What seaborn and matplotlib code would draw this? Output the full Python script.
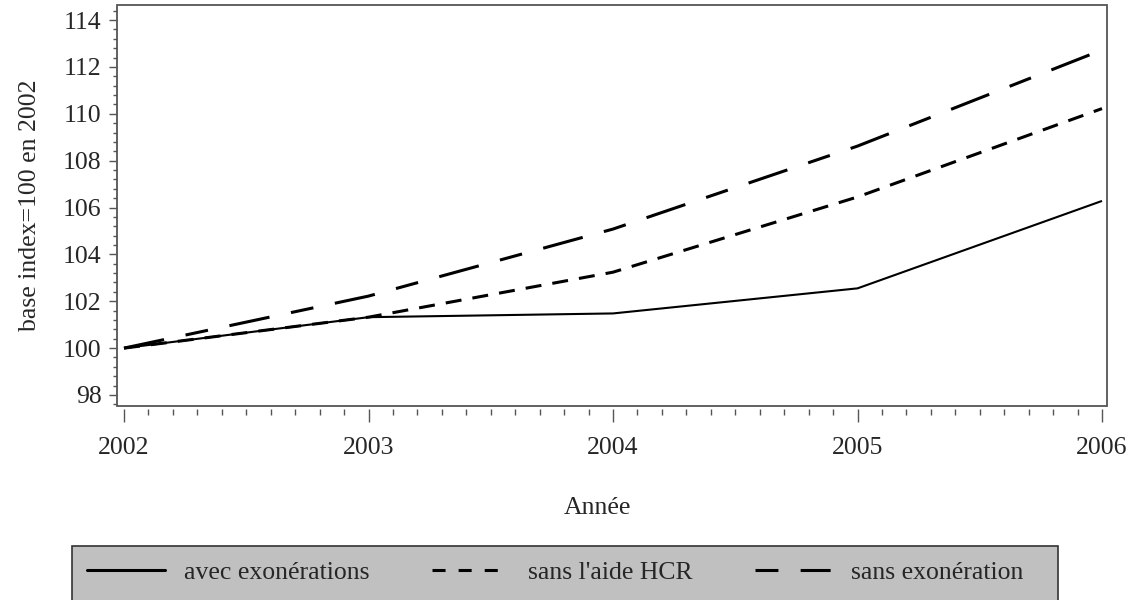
import numpy as np
import pandas as pd
import matplotlib
matplotlib.use("Agg")
import matplotlib.pyplot as plt
from matplotlib.lines import Line2D
from matplotlib.patches import Rectangle
from matplotlib.ticker import MultipleLocator
import seaborn as sns

years = [2002, 2003, 2004, 2005, 2006]
avec_exonerations = [100.0, 101.32, 101.48, 102.55, 106.28]
sans_aide_hcr = [100.0, 101.32, 103.24, 106.45, 110.22]
sans_exoneration = [100.0, 102.22, 105.08, 108.62, 112.72]
series_names = ["avec exonérations", "sans l'aide HCR", "sans exonération"]

sns.set_theme(style="white")
plt.rcParams["font.family"] = ["Liberation Serif", "DejaVu Serif"]
plt.rcParams["lines.scale_dashes"] = False

FS = 18.5
fig = plt.figure(figsize=(11.36, 6.0), dpi=100)
ax = fig.add_axes([117/1136, 1-406/600, (1107-117)/1136, (406-5)/600])

series_vals = [avec_exonerations, sans_aide_hcr, sans_exoneration]
styles = [
    dict(lw=1.5, dashes=None),
    dict(lw=2.2, dashes=(11.5, 8.0)),
    dict(lw=2.2, dashes=(29.5, 15.8, 16.5, 15.8)),
]
for name, vals, st in zip(series_names, series_vals, styles):
    df = pd.DataFrame({"Année": years, "val": vals})
    sns.lineplot(data=df, x="Année", y="val", ax=ax, color="black",
                 linewidth=st["lw"], legend=False)
    ln = ax.lines[-1]
    if st["dashes"] is not None:
        ln.set_dashes(st["dashes"])
    ln.set_solid_capstyle("butt")
    ln.set_dash_capstyle("butt")

ax.set_xlim(2002 - 7/244.5, 2006 + 5/244.5)
ax.set_ylim(98 - 11/23.43, 114 + 15/23.43)
ax.xaxis.set_major_locator(MultipleLocator(1))
ax.xaxis.set_minor_locator(MultipleLocator(0.1))
ax.yaxis.set_major_locator(MultipleLocator(2))
ax.yaxis.set_minor_locator(MultipleLocator(0.4))
ax.set_xticks(years)
ax.set_xticklabels([str(y) for y in years])

tick_col = "#555555"
ax.tick_params(axis="x", which="major", direction="out", length=9, width=1.0,
               color=tick_col, labelsize=FS, pad=11, bottom=True)
ax.tick_params(axis="x", which="minor", direction="out", length=4.5, width=1.0,
               color=tick_col, bottom=True)
ax.tick_params(axis="y", which="major", direction="out", length=6, width=1.0,
               color=tick_col, labelsize=FS, pad=5, left=True)
ax.tick_params(axis="y", which="minor", direction="out", length=3, width=1.0,
               color=tick_col, left=True)

for s in ax.spines.values():
    s.set_visible(False)
ax.spines["bottom"].set_position(("outward", 2))
ax.add_patch(Rectangle((0, 0), 1, 1, transform=ax.transAxes, fill=False,
                       edgecolor="#555555", linewidth=1.3, clip_on=False, zorder=5))

ax.set_xlabel("Année", fontsize=FS)
ax.set_ylabel("base index=100 en 2002", fontsize=FS)
ax.xaxis.set_label_coords((597-117)/(1107-117), -(508-406)/(406-5))
ax.xaxis.label.set_va("center")
ax.yaxis.set_label_coords(-(117-30)/(1107-117), (406-205)/(406-5))
ax.yaxis.label.set_va("center")

# legend background box
fig.patches.append(Rectangle((72/1136, -0.02), (1058-72)/1136, 0.02 + 1-546/600,
                             transform=fig.transFigure, facecolor="#c0c0c0",
                             edgecolor="#333333", linewidth=1.2, zorder=0))

handles = [
    Line2D([], [], color="black", lw=2.2),
    Line2D([], [], color="black", lw=2.2, dashes=(9.4, 9.4)),
    Line2D([], [], color="black", lw=2.2, dashes=(16.5, 16.0, 21.6, 16.0)),
]
leg = fig.legend(handles, series_names, loc="upper left",
                 bbox_to_anchor=(72/1136, 1-546/600, (1039-72)/1136, 0.0),
                 mode="expand", ncol=3, fontsize=FS, frameon=False,
                 handlelength=3.0, handletextpad=0.75,
                 borderpad=0.6, borderaxespad=0.0)

fig.savefig("out.png", dpi=100)
